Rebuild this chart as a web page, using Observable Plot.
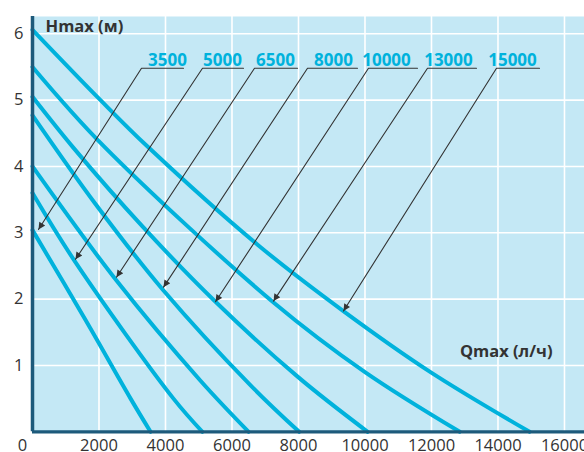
<!DOCTYPE html>
<html><head><meta charset="utf-8">
<script src="https://cdn.jsdelivr.net/npm/d3@7"></script>
<script src="https://cdn.jsdelivr.net/npm/@observablehq/plot@0.6"></script>
<style>
html,body{margin:0;padding:0;background:#fff;}
#chart svg{display:block;}
</style>
</head><body><div id="chart"></div>
<script>
// ---- data ----
const qTicks = [0, 2000, 4000, 6000, 8000, 10000, 12000, 14000, 16000];
const hTicks = [1, 2, 3, 4, 5, 6];
const seriesNames = ["3500", "5000", "6500", "8000", "10000", "13000", "15000"];

const q3500 = [0, 1600, 2950, 3550];
const h3500 = [3.04, 1.68, 0.5, 0];
const q5000 = [0, 1300, 4240, 5110];
const h5000 = [3.6, 2.55, 0.5, 0];
const q6500 = [0, 2526, 5053, 6500];
const h6500 = [4.0, 2.28, 0.77, 0];
const q8000 = [0, 1900, 3940, 6560, 8020];
const h8000 = [4.77, 3.43, 2.13, 0.7, 0];
const q10000 = [0, 1233, 3300, 5504, 8000, 10080];
const h10000 = [5.05, 4.28, 3.1, 1.96, 0.82, 0];
const q13000 = [0, 2135, 7250, 10000, 12850];
const h13000 = [5.5, 4.31, 1.95, 0.9, 0];
const q15000 = [0, 2045, 3460, 6770, 9350, 11970, 14950];
const h15000 = [6.06, 5.0, 4.3, 2.82, 1.82, 0.9, 0];

// label annotations: label centre, underline extent, arrow target
const labelQ = [4060, 5714, 7308, 9053, 10647, 12511, 14436];
const labelH = 5.60;
const underLeftQ = [3278, 5113, 6677, 8271, 10105, 11880, 13955];
const underRightQ = [4541, 6346, 7970, 9774, 11579, 13353, 15248];
const underH = 5.48;
const tipQ = [180, 1293, 2526, 3940, 5504, 7248, 9353];
const tipH = [3.05, 2.60, 2.33, 2.18, 1.96, 1.97, 1.82];

const xTitle = "Qmax (л/ч)";
const yTitle = "Hmax (м)";

// ---- build tables ----
const qs = [q3500, q5000, q6500, q8000, q10000, q13000, q15000];
const hs = [h3500, h5000, h6500, h8000, h10000, h13000, h15000];
const curves = seriesNames.flatMap((s, i) => qs[i].map((q, j) => ({s, q, h: hs[i][j]})));
const leaders = seriesNames.flatMap((s, i) => [
  {s, q: underRightQ[i], h: underH},
  {s, q: underLeftQ[i], h: underH},
  {s, q: tipQ[i], h: tipH[i]}
]);
const labels = seriesNames.map((s, i) => ({s, q: labelQ[i], h: labelH}));

const font = "'Open Sans', 'DejaVu Sans', sans-serif";
const cyan = "#00b2dc";
const axisBlue = "#1d5a7b";
const textCol = "#333333";
const fmt = d => String(d);

const svg = Plot.plot({
  width: 584,
  height: 452,
  marginLeft: 32,
  marginRight: 0,
  marginTop: 16,
  marginBottom: 20.7,
  style: {fontFamily: font, background: "#fff", overflow: "visible"},
  x: {domain: [0, 16602]},
  y: {domain: [0, 6.26]},
  marks: [
    Plot.frame({fill: "#c4e8f5", stroke: "none"}),
    Plot.ruleX(qTicks.filter(d => d > 0), {stroke: "#fff", strokeWidth: 1.6}),
    Plot.ruleY(hTicks, {stroke: "#fff", strokeWidth: 1.6}),
    Plot.line(curves, {x: "q", y: "h", z: "s", stroke: cyan, strokeWidth: 4, curve: "catmull-rom"}),
    Plot.line(leaders, {x: "q", y: "h", z: "s", stroke: "#333", strokeWidth: 1.1}),
    Plot.text(labels, {x: "q", y: "h", text: "s", fill: cyan, fontWeight: "bold", fontSize: 17, textAnchor: "middle"}),
    Plot.ruleX([0], {stroke: axisBlue, strokeWidth: 3.5}),
    Plot.ruleY([0], {stroke: axisBlue, strokeWidth: 3.2}),
    Plot.axisX(qTicks.filter(d => d > 0), {tickSize: 0, tickPadding: 7.5, fontSize: 16.5, color: textCol, label: null, tickFormat: fmt}),
    Plot.axisX([0], {tickSize: 0, tickPadding: 7.5, fontSize: 16.5, color: textCol, label: null, dx: -10, tickFormat: fmt}),
    Plot.axisY(hTicks, {tickSize: 0, tickPadding: 9, fontSize: 16.5, color: textCol, label: null, tickFormat: fmt}),
    Plot.text([yTitle], {x: 391, y: 6.11, text: d => d, textAnchor: "start", fontWeight: "bold", fontSize: 16.5, fill: textCol}),
    Plot.text([xTitle], {x: 15639, y: 1.21, text: d => d, textAnchor: "end", fontWeight: "bold", fontSize: 16.5, fill: textCol})
  ]
});

// filled arrowheads for the leader lines (second line mark)
const ns = "http://www.w3.org/2000/svg";
const defs = document.createElementNS(ns, "defs");
const marker = document.createElementNS(ns, "marker");
marker.setAttribute("id", "ahead");
marker.setAttribute("viewBox", "0 0 10 10");
marker.setAttribute("refX", "10");
marker.setAttribute("refY", "5");
marker.setAttribute("markerWidth", "9");
marker.setAttribute("markerHeight", "7");
marker.setAttribute("markerUnits", "userSpaceOnUse");
marker.setAttribute("orient", "auto");
const mp = document.createElementNS(ns, "path");
mp.setAttribute("d", "M0,0L10,5L0,10z");
mp.setAttribute("fill", "#333");
mp.setAttribute("stroke", "none");
marker.appendChild(mp);
defs.appendChild(marker);
svg.insertBefore(defs, svg.firstChild);
const lineGroups = svg.querySelectorAll('g[aria-label="line"]');
if (lineGroups.length > 1) {
  lineGroups[1].querySelectorAll("path").forEach(p => p.setAttribute("marker-end", "url(#ahead)"));
}

document.getElementById("chart").appendChild(svg);
</script>
</body></html>
